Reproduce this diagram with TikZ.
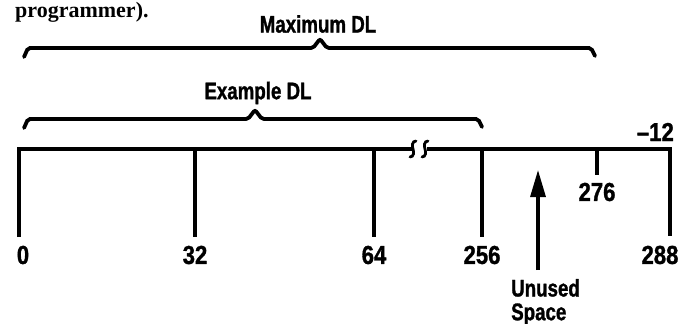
\documentclass[tikz,border=0pt]{standalone}
\usepackage{fontspec}
\usepackage{tikz}
\usetikzlibrary{positioning,arrows.meta}

\newfontfamily\dlfont[FakeStretch=0.78,FakeBold=1.2]{Liberation Sans}
\newfontfamily\numfont[FakeStretch=0.85,FakeBold=1.2]{Liberation Sans}
\newfontfamily\bodyfont{Liberation Serif}

\tikzset{
  rule/.style={line width=3.8pt, line cap=butt},
  brc/.style={line width=3.8pt, rounded corners=2pt, line cap=round},
  lbl/.style={font=\dlfont\bfseries\fontsize{24}{25}\selectfont, inner sep=0pt},
  num/.style={font=\numfont\bfseries\fontsize{26}{27}\selectfont, inner sep=0pt},
}

% brace: left x, tip x, right x, level y
\newcommand{\dlbrace}[4]{%
  \draw[brc] (#1,#4+9) -- (#1+4,#4) -- (#2-7,#4) -- (#2,#4-9) -- (#2+7,#4) -- (#3-4,#4) -- (#3,#4+8);}

\begin{document}
\begin{tikzpicture}[x=1pt,y=-1pt]
      \useasboundingbox (0,0) rectangle (689,324);
      \node[anchor=base west, inner sep=0pt, font=\bodyfont\bfseries\fontsize{22}{23}\selectfont] (prog) at (15,17) {programmer).};

      % the two braces
      \dlbrace{24}{320}{595}{48}
      \node[lbl] (maxdl) at (318,24) {Maximum DL};
      \dlbrace{24}{255}{482}{119}
      \node[lbl] (exdl) at (258,93) {Example DL};

      % ticks and their labels
      \foreach \x/\v/\lx in {19/0/23, 195/32/195, 374/64/374, 482/256/482} {
        \coordinate (top\v) at (\x,149);
        \coordinate (bot\v) at (\x,237);
        \node[num] (lab\v) at (\lx,255) {\v};
      }
      \coordinate (top288) at (670,149);
      \coordinate (bot288) at (670,236);
      \node[num] (lab288) at (660,255) {288};
      \coordinate (top276) at (597,149);
      \coordinate (bot276) at (597,175);
      \node[num] (lab276) at (597,192) {276};
      \node[num, anchor=east] (lab12) at (674,132) {–12};

      \coordinate (brkL) at (413,149);
      \coordinate (brkR) at (427,149);
      \draw[rule, line join=miter] (bot0) -- (top0) -- (brkL);
      \draw[rule, line join=miter] (brkR) -- (top288) -- (bot288);
      \foreach \v in {32,64,256,276} \draw[rule] (top\v) -- (bot\v);

      % break mark
      \foreach \bx in {413,425}
        \draw[line width=2.8pt, line cap=round] (\bx+3,141) .. controls (\bx-1,141) and (\bx-1,146) .. (\bx,149)
          .. controls (\bx+1,152) and (\bx+1,157) .. (\bx-3,157);

      % unused space
      \node[lbl, anchor=west, text height=17pt, text depth=0pt] (unused) at (511,288) {Unused};
      \node[lbl, anchor=north west, text height=17pt, text depth=4pt] (space) at (511,303) {Space};
      \coordinate (arrbot) at (538,270);
      \coordinate (arrtop) at (538,170);
      \draw[line width=3.2pt, -{Triangle[length=27pt,width=15pt]}] (arrbot) -- (arrtop);
\end{tikzpicture}
\end{document}
